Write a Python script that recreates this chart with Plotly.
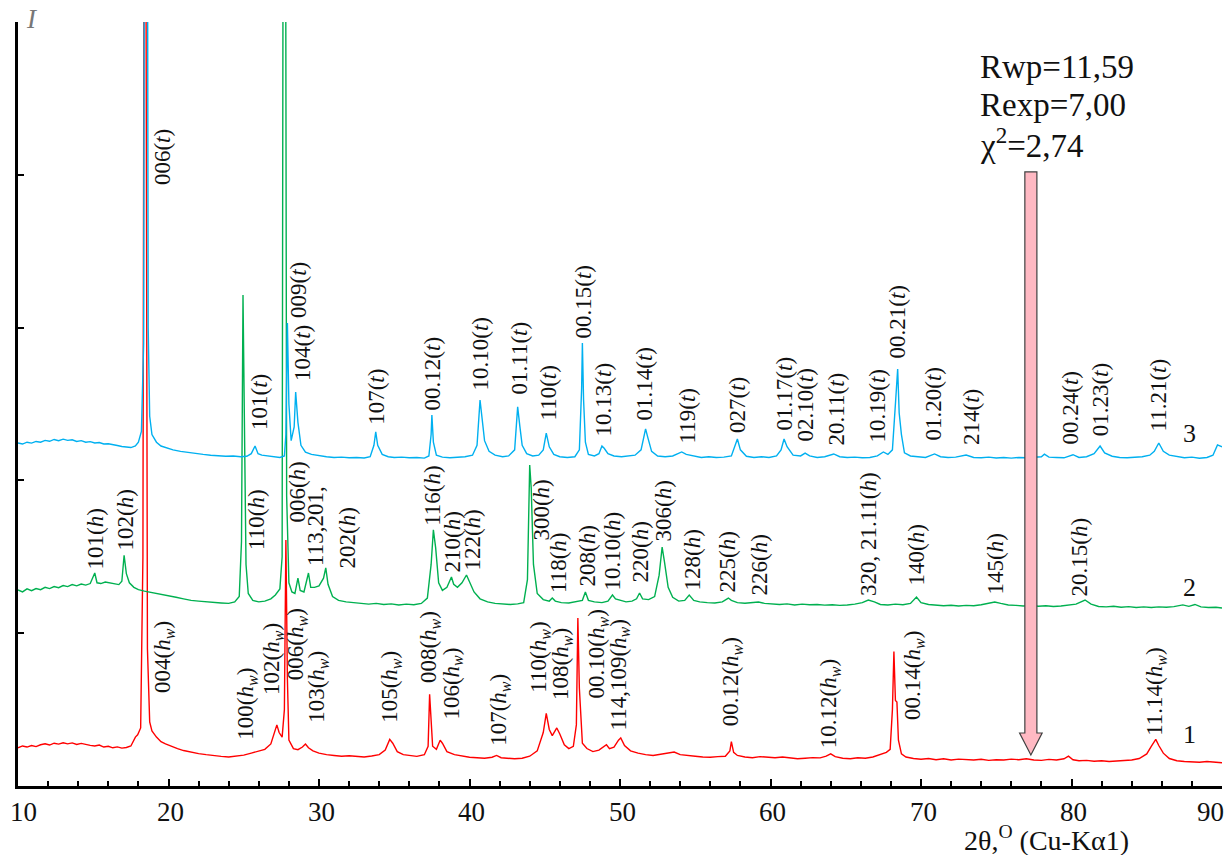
import plotly.graph_objects as go

# ---- measured patterns: (2theta, counts) ----
red_points = [
    (10.0, 250), (10.3, 262), (10.6, 255), (10.9, 265), (11.2, 258), (11.5, 270), (11.8, 276), (12.1, 268),
    (12.4, 280), (12.7, 274), (13.0, 283), (13.3, 276), (13.6, 282), (13.9, 272), (14.2, 279), (14.5, 270),
    (14.8, 266), (15.1, 262), (15.4, 268), (15.7, 255), (16.0, 260), (16.3, 250), (16.6, 256), (16.9, 248),
    (17.2, 252), (17.5, 262), (17.8, 320), (17.95, 335), (18.15, 380), (18.3, 1500), (18.4, 7000), (18.5, 5500),
    (18.6, 900), (18.75, 420), (18.9, 360), (19.2, 320), (19.5, 290), (19.8, 275), (20.2, 258), (20.6, 245),
    (21.0, 232), (21.5, 220), (22.0, 212), (22.5, 205), (23.0, 198), (23.5, 194), (24.0, 190), (24.5, 196),
    (25.0, 202), (25.5, 215), (26.0, 228), (26.4, 240), (26.8, 275), (27.1, 380), (27.2, 400), (27.35, 350),
    (27.55, 320), (27.7, 500), (27.8, 1610), (27.9, 700), (28.0, 300), (28.3, 245), (28.6, 238), (28.9, 255),
    (29.1, 275), (29.3, 250), (29.6, 230), (30.0, 215), (30.5, 205), (31.0, 200), (31.5, 195), (32.0, 198),
    (32.5, 193), (33.0, 190), (33.5, 196), (34.0, 205), (34.4, 235), (34.7, 305), (34.9, 280), (35.2, 225),
    (35.6, 205), (36.0, 198), (36.5, 194), (37.0, 205), (37.25, 260), (37.35, 600), (37.45, 420), (37.55, 260),
    (37.8, 240), (38.05, 300), (38.2, 280), (38.5, 225), (39.0, 205), (39.5, 195), (40.0, 188), (40.5, 185),
    (41.0, 182), (41.5, 188), (41.8, 200), (42.1, 185), (42.5, 180), (43.0, 178), (43.5, 182), (44.0, 195),
    (44.5, 230), (44.9, 350), (45.1, 475), (45.3, 370), (45.5, 330), (45.8, 380), (46.0, 340), (46.3, 270),
    (46.6, 245), (46.9, 260), (47.1, 400), (47.2, 1100), (47.3, 640), (47.4, 420), (47.5, 280), (47.8, 245),
    (48.2, 225), (48.6, 235), (49.0, 265), (49.1, 270), (49.3, 245), (49.6, 255), (49.9, 300), (50.05, 315),
    (50.3, 265), (50.7, 230), (51.2, 215), (51.7, 205), (52.2, 200), (52.7, 208), (53.2, 212), (53.6, 222),
    (54.0, 205), (54.5, 198), (55.0, 195), (55.5, 190), (56.0, 188), (56.5, 192), (57.0, 195), (57.3, 230),
    (57.4, 290), (57.55, 220), (57.8, 200), (58.3, 190), (58.8, 185), (59.3, 192), (59.8, 188), (60.3, 185),
    (60.8, 190), (61.3, 182), (61.8, 178), (62.3, 182), (62.8, 186), (63.3, 184), (63.7, 195), (64.0, 210),
    (64.3, 192), (64.8, 182), (65.3, 178), (65.8, 185), (66.3, 182), (66.8, 190), (67.3, 205), (67.7, 220),
    (67.95, 240), (68.1, 500), (68.2, 880), (68.3, 560), (68.4, 550), (68.5, 300), (68.7, 210), (69.0, 190),
    (69.5, 180), (70.0, 175), (70.5, 180), (71.0, 172), (71.5, 178), (72.0, 170), (72.5, 176), (73.0, 172),
    (73.5, 170), (74.0, 175), (74.5, 168), (75.0, 172), (75.5, 170), (76.0, 176), (76.5, 172), (77.0, 178),
    (77.5, 170), (78.0, 168), (78.5, 174), (79.0, 170), (79.5, 178), (79.8, 195), (80.1, 172), (80.5, 165),
    (81.0, 168), (81.5, 162), (82.0, 165), (82.5, 160), (83.0, 162), (83.5, 168), (84.0, 170), (84.5, 180),
    (85.0, 210), (85.3, 260), (85.6, 305), (85.8, 265), (86.1, 215), (86.5, 180), (87.0, 165), (87.5, 160),
    (88.0, 158), (88.5, 155), (89.0, 160), (89.5, 155), (90.0, 152),
]

green_points = [
    (10.0, 283), (10.3, 270), (10.6, 290), (10.9, 278), (11.2, 292), (11.5, 285), (11.8, 300), (12.1, 292),
    (12.4, 305), (12.7, 298), (13.0, 312), (13.3, 305), (13.6, 318), (13.9, 310), (14.2, 322), (14.5, 315),
    (14.8, 325), (15.0, 380), (15.1, 394), (15.25, 330), (15.5, 325), (15.8, 335), (16.1, 328), (16.4, 320),
    (16.7, 318), (16.9, 340), (17.05, 510), (17.2, 390), (17.4, 330), (17.7, 300), (18.0, 285), (18.4, 275),
    (18.8, 268), (19.2, 260), (19.6, 255), (20.0, 245), (20.5, 235), (21.0, 225), (21.5, 215), (22.0, 210),
    (22.5, 205), (23.0, 200), (23.5, 198), (24.0, 195), (24.4, 205), (24.7, 240), (24.85, 600), (24.95, 2214),
    (25.05, 1500), (25.15, 450), (25.3, 260), (25.6, 215), (26.0, 205), (26.4, 210), (26.8, 225), (27.1, 250),
    (27.4, 290), (27.55, 500), (27.65, 7000), (27.75, 6500), (27.85, 900), (28.0, 330), (28.2, 270), (28.4, 260),
    (28.6, 361), (28.75, 280), (29.0, 270), (29.3, 394), (29.45, 300), (29.7, 300), (30.0, 310), (30.3, 360),
    (30.45, 427), (30.6, 320), (30.9, 240), (31.3, 215), (31.8, 205), (32.3, 200), (32.8, 195), (33.3, 190),
    (33.8, 195), (34.3, 188), (34.8, 192), (35.3, 185), (35.8, 190), (36.3, 186), (36.8, 195), (37.2, 230),
    (37.45, 450), (37.6, 676), (37.75, 560), (37.95, 330), (38.2, 280), (38.5, 300), (38.8, 368), (38.95, 320),
    (39.2, 300), (39.5, 330), (39.8, 381), (40.0, 340), (40.3, 270), (40.7, 225), (41.2, 205), (41.7, 195),
    (42.2, 190), (42.7, 188), (43.2, 192), (43.6, 200), (43.85, 350), (44.0, 1101), (44.1, 950), (44.25, 450),
    (44.5, 260), (44.9, 220), (45.3, 210), (45.5, 230), (45.7, 210), (46.1, 200), (46.6, 198), (47.1, 205),
    (47.5, 215), (47.7, 270), (47.9, 215), (48.3, 205), (48.8, 200), (49.2, 210), (49.5, 250), (49.7, 225),
    (50.0, 215), (50.4, 205), (50.8, 210), (51.1, 225), (51.3, 263), (51.5, 225), (51.9, 220), (52.3, 240),
    (52.6, 380), (52.8, 564), (52.95, 470), (53.2, 300), (53.5, 235), (53.9, 210), (54.3, 215), (54.6, 250),
    (54.9, 215), (55.3, 205), (55.8, 200), (56.3, 198), (56.8, 205), (57.2, 230), (57.4, 215), (57.8, 200),
    (58.3, 196), (58.8, 200), (59.2, 204), (59.6, 195), (60.1, 190), (60.6, 188), (61.1, 192), (61.6, 185),
    (62.1, 190), (62.6, 186), (63.1, 188), (63.6, 184), (64.1, 186), (64.6, 182), (65.1, 185), (65.6, 190),
    (66.1, 200), (66.5, 217), (66.9, 205), (67.3, 188), (67.8, 185), (68.3, 190), (68.8, 186), (69.3, 195),
    (69.7, 237), (70.0, 200), (70.5, 188), (71.0, 185), (71.5, 180), (72.0, 183), (72.5, 178), (73.0, 182),
    (73.5, 180), (74.0, 186), (74.5, 195), (74.9, 204), (75.3, 195), (75.8, 185), (76.3, 182), (76.8, 178),
    (77.3, 182), (77.8, 176), (78.3, 180), (78.8, 175), (79.3, 178), (79.8, 182), (80.3, 190), (80.9, 217),
    (81.3, 190), (81.8, 175), (82.3, 172), (82.8, 176), (83.3, 170), (83.8, 174), (84.3, 168), (84.8, 172),
    (85.3, 168), (85.8, 172), (86.3, 170), (86.8, 174), (87.4, 185), (87.8, 176), (88.2, 188), (88.6, 172),
    (89.1, 168), (89.6, 170), (90.0, 165),
]

blue_points = [
    (10.0, 245), (10.3, 238), (10.6, 250), (10.9, 244), (11.2, 255), (11.5, 250), (11.8, 262), (12.1, 256),
    (12.4, 268), (12.7, 260), (13.0, 270), (13.3, 262), (13.6, 266), (13.9, 255), (14.2, 260), (14.5, 250),
    (14.8, 254), (15.1, 245), (15.4, 248), (15.7, 238), (16.0, 240), (16.3, 232), (16.6, 228), (16.9, 222),
    (17.2, 218), (17.5, 215), (17.8, 225), (18.0, 250), (18.2, 320), (18.35, 900), (18.45, 7000), (18.55, 7000),
    (18.65, 1000), (18.75, 420), (18.9, 300), (19.2, 250), (19.5, 225), (19.9, 210), (20.3, 200), (20.8, 190),
    (21.3, 182), (21.8, 175), (22.3, 170), (22.8, 165), (23.3, 162), (23.8, 158), (24.3, 160), (24.8, 155),
    (25.2, 158), (25.5, 175), (25.75, 225), (25.95, 175), (26.2, 165), (26.6, 160), (27.0, 152), (27.4, 150),
    (27.7, 160), (27.8, 300), (27.9, 1030), (28.0, 500), (28.15, 260), (28.35, 350), (28.45, 579), (28.6, 380),
    (28.8, 230), (29.1, 185), (29.5, 170), (30.0, 160), (30.5, 155), (31.0, 150), (31.5, 152), (32.0, 148),
    (32.5, 150), (33.0, 147), (33.4, 155), (33.65, 230), (33.77, 317), (33.9, 230), (34.2, 170), (34.6, 155),
    (35.0, 150), (35.5, 152), (36.0, 148), (36.5, 150), (37.0, 146), (37.3, 160), (37.45, 300), (37.5, 428),
    (37.6, 250), (37.8, 165), (38.2, 152), (38.7, 148), (39.2, 150), (39.7, 155), (40.2, 165), (40.5, 230),
    (40.7, 526), (40.85, 400), (41.0, 260), (41.3, 190), (41.7, 165), (42.2, 155), (42.6, 160), (43.0, 200),
    (43.2, 481), (43.35, 350), (43.5, 230), (43.8, 175), (44.2, 160), (44.6, 165), (44.9, 200), (45.1, 310),
    (45.3, 220), (45.6, 170), (46.0, 155), (46.5, 150), (47.0, 155), (47.3, 200), (47.45, 600), (47.5, 899),
    (47.58, 526), (47.7, 250), (47.9, 170), (48.3, 160), (48.6, 175), (48.8, 225), (48.95, 210), (49.2, 175),
    (49.6, 160), (50.1, 155), (50.6, 158), (51.0, 165), (51.4, 200), (51.7, 337), (51.85, 280), (52.1, 190),
    (52.5, 160), (53.0, 155), (53.5, 160), (53.9, 175), (54.1, 186), (54.4, 170), (54.9, 158), (55.4, 150),
    (55.9, 155), (56.4, 150), (56.9, 152), (57.4, 160), (57.8, 271), (58.0, 200), (58.4, 158), (58.9, 150),
    (59.4, 155), (59.9, 150), (60.4, 160), (60.7, 200), (60.9, 271), (61.1, 220), (61.5, 165), (62.0, 160),
    (62.3, 179), (62.6, 160), (63.1, 150), (63.6, 155), (64.2, 173), (64.6, 155), (65.1, 150), (65.6, 152),
    (66.1, 148), (66.6, 150), (67.1, 160), (67.5, 186), (67.8, 170), (68.1, 200), (68.3, 500), (68.45, 729),
    (68.55, 441), (68.7, 300), (68.9, 180), (69.3, 160), (69.8, 155), (70.3, 150), (70.9, 173), (71.3, 155),
    (71.8, 150), (72.3, 152), (73.0, 166), (73.5, 150), (74.0, 148), (74.5, 152), (75.0, 147), (75.5, 150),
    (76.0, 146), (76.5, 150), (77.0, 148), (77.5, 152), (78.0, 155), (78.2, 172), (78.5, 152), (79.0, 150),
    (79.5, 148), (80.1, 168), (80.5, 150), (81.0, 155), (81.5, 175), (81.9, 225), (82.2, 180), (82.7, 158),
    (83.2, 150), (83.7, 148), (84.2, 150), (84.7, 155), (85.2, 165), (85.5, 190), (85.8, 245), (86.1, 190),
    (86.5, 165), (87.0, 155), (87.5, 148), (88.0, 152), (88.5, 145), (89.0, 150), (89.4, 165), (89.7, 232),
    (90.0, 220),
]

# vertical shift applied to each pattern in the stack
offsets = {"1": 0, "2": 1000, "3": 2000}

# 2theta axis labels
x_tick_values = [10, 20, 30, 40, 50, 60, 70, 80, 90]

HW = "(<i>h</i><sub><i>w</i></sub>)"
HH = "(<i>h</i>)"
TT = "(<i>t</i>)"

# reflection labels: text, 2theta of label, label foot (stacked counts)
red_labels = [
    ("004" + HW, 19.70, 596), ("100" + HW, 25.22, 290), ("102" + HW, 26.94, 582),
    ("006" + HW, 28.54, 680), ("103" + HW, 29.93, 400), ("105" + HW, 34.78, 400),
    ("008" + HW, 37.38, 661), ("106" + HW, 38.88, 419), ("107" + HW, 42.03, 250),
    ("110" + HW, 44.70, 596), ("108" + HW, 46.15, 550), ("00.10" + HW, 48.60, 563),
    ("114,109" + HW, 50.00, 347), ("00.12" + HW, 57.50, 380), ("10.12" + HW, 64.00, 236),
    ("00.14" + HW, 69.57, 419), ("11.14" + HW, 85.60, 314),
]
green_labels = [
    ("101" + HH, 15.12, 1401), ("102" + HH, 17.11, 1525), ("110" + HH, 25.88, 1532),
    ("006" + HH, 28.54, 1708), ("113,201,", 29.80, 1427), ("202" + HH, 31.86, 1414),
    ("116" + HH, 37.57, 1689), ("210" + HH, 38.84, 1381), ("122" + HH, 40.17, 1394),
    ("300" + HH, 44.82, 1590), ("118" + HH, 45.88, 1250), ("208" + HH, 47.87, 1296),
    ("10.10" + HH, 49.47, 1263), ("220" + HH, 51.33, 1316), ("306" + HH, 52.92, 1590),
    ("128" + HH, 54.78, 1270), ("225" + HH, 57.11, 1250), ("226" + HH, 59.30, 1237),
    ("320, 21.11" + HH, 66.48, 1230), ("140" + HH, 69.73, 1302), ("145" + HH, 74.92, 1237),
    ("20.15" + HH, 80.56, 1230),
]
blue_labels = [
    ("006" + TT, 19.57, 3920), ("009" + TT, 28.67, 3050), ("104" + TT, 28.94, 2638),
    ("101" + TT, 26.08, 2317), ("107" + TT, 33.85, 2350), ("00.12" + TT, 37.57, 2448),
    ("10.10" + TT, 40.70, 2572), ("01.11" + TT, 43.29, 2546), ("110" + TT, 45.22, 2376),
    ("00.15" + TT, 47.54, 2919), ("10.13" + TT, 48.87, 2278), ("01.14" + TT, 51.66, 2382),
    ("119" + TT, 54.45, 2232), ("027" + TT, 57.77, 2297), ("01.17" + TT, 60.96, 2317),
    ("02.10" + TT, 62.36, 2238), ("20.11" + TT, 64.35, 2219), ("10.19" + TT, 67.08, 2232),
    ("00.21" + TT, 68.47, 2788), ("01.20" + TT, 70.80, 2245), ("214" + TT, 73.39, 2219),
    ("00.24" + TT, 79.90, 2219), ("01.23" + TT, 81.89, 2278), ("11.21" + TT, 85.81, 2310),
]

curve_numbers = [("1", 87.87, 334), ("2", 87.87, 1296), ("3", 87.87, 2310)]
fit_stats = ["Rwp=11,59", "Rexp=7,00", "χ<sup>2</sup>=2,74"]

SERIF = "Liberation Serif"
INK = "#111111"
colors = {"1": "#FF0000", "2": "#00B050", "3": "#00B0F0"}

fig = go.Figure()
for key, pts in (("1", red_points), ("2", green_points), ("3", blue_points)):
    xs = [p[0] for p in pts]
    ys = [p[1] + offsets[key] for p in pts]
    fig.add_trace(go.Scatter(x=xs, y=ys, mode="lines",
                             line=dict(color=colors[key], width=1.4),
                             showlegend=False, hoverinfo="skip"))

annotations = []
for labels in (red_labels, green_labels, blue_labels):
    for text, x, y in labels:
        annotations.append(dict(x=x, y=y, xref="x", yref="y", text=text, textangle=-90,
                                showarrow=False, xanchor="center", yanchor="bottom",
                                font=dict(family=SERIF, size=23, color=INK)))

for text, x, y in curve_numbers:
    annotations.append(dict(x=x, y=y, xref="x", yref="y", text=text, showarrow=False,
                            xanchor="center", yanchor="middle",
                            font=dict(family=SERIF, size=26, color=INK)))

for i, line in enumerate(fit_stats):
    annotations.append(dict(x=73.79, y=4706 - i * 249, xref="x", yref="y", text=line,
                            showarrow=False, xanchor="left", yanchor="middle",
                            font=dict(family=SERIF, size=33, color=INK)))

# tick labels under the 2theta axis; the outermost ones are nudged inside the frame
for v in x_tick_values:
    shift = 5 if v == x_tick_values[0] else (-12 if v == x_tick_values[-1] else 2)
    annotations.append(dict(x=v, y=-0.034, xref="x", yref="paper", text=str(v),
                            showarrow=False, xanchor="center", yanchor="middle", xshift=shift,
                            font=dict(family=SERIF, size=27, color=INK)))

# axis captions
annotations.append(dict(x=0.012, y=1.004, xref="paper", yref="paper", text="<i>I</i>",
                        showarrow=False, xanchor="center", yanchor="middle",
                        font=dict(family=SERIF, size=27, color="#777777")))
annotations.append(dict(x=78.37, y=-0.069, xref="x", yref="paper",
                        text="2θ,<sup>O</sup> (Cu-Kα1)", showarrow=False,
                        xanchor="center", yanchor="middle",
                        font=dict(family=SERIF, size=28, color=INK)))

# downward arrow marking the region of interest
ax0 = 77.3
arrow_path = (f"M {ax0 - 0.4},4019 L {ax0 + 0.4},4019 L {ax0 + 0.4},347 L {ax0 + 0.75},347 "
              f"L {ax0},203 L {ax0 - 0.75},347 L {ax0 - 0.4},347 Z")
fig.add_shape(type="path", path=arrow_path, xref="x", yref="y",
              fillcolor="#FFB9C3", line=dict(color="#404040", width=1.2))

fig.update_layout(
    width=1231, height=855, autosize=False,
    margin=dict(l=18, r=9, t=22, b=69, autoexpand=False),
    paper_bgcolor="white", plot_bgcolor="white",
    annotations=annotations,
    xaxis=dict(range=[10, 90], tickmode="array", tickvals=x_tick_values,
               ticks="inside", ticklen=7, tickwidth=2, tickcolor="black",
               minor=dict(ticks="inside", dtick=2, ticklen=5, tickwidth=2, tickcolor="black"),
               showticklabels=False,
               showline=True, linewidth=2.5, linecolor="black", showgrid=False, zeroline=False,
               automargin=False),
    yaxis=dict(range=[0, 5000], tickmode="linear", tick0=0, dtick=1000,
               ticks="inside", ticklen=6, tickwidth=2, tickcolor="black",
               showticklabels=False, showline=True, linewidth=2.5, linecolor="black",
               showgrid=False, zeroline=False, automargin=False),
)

fig.write_html("out.html")
